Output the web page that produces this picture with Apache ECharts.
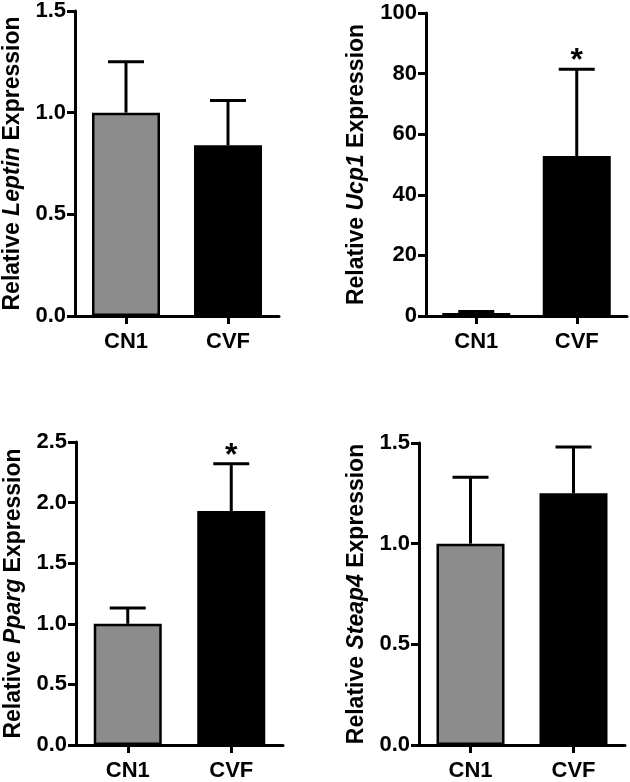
<!DOCTYPE html>
<html>
<head>
<meta charset="utf-8">
<script src="https://cdn.jsdelivr.net/npm/echarts@6/dist/echarts.min.js"></script>
<style>html,body{margin:0;padding:0;background:#fff;}#c{width:630px;height:782px;}</style>
</head>
<body>
<div id="c"></div>
<script>
// ---- data ----
const categories = ['CN1', 'CVF'];
const leptinMean = [1.0, 0.84];
const leptinSem  = [0.25, 0.22];
const ucp1Mean   = [1.0, 52.8];
const ucp1Sem    = [0.5, 28.6];
const ppargMean  = [1.0, 1.93];
const ppargSem   = [0.13, 0.39];
const steap4Mean = [1.0, 1.25];
const steap4Sem  = [0.33, 0.23];
const leptinStar = ['', ''];
const ucp1Star   = ['', '*'];
const ppargStar  = ['', '*'];
const steap4Star = ['', ''];
const leptinTicks = { min: 0, max: 1.5, interval: 0.5 };
const ucp1Ticks   = { min: 0, max: 100, interval: 20 };
const ppargTicks  = { min: 0, max: 2.5, interval: 0.5 };
const steap4Ticks = { min: 0, max: 1.5, interval: 0.5 };

const FONT = 'Liberation Sans, Arial, Helvetica, sans-serif';
const barColors = ['#8c8c8c', '#000000'];

const panels = [
  { gene: 'Leptin', mean: leptinMean, sem: leptinSem, star: leptinStar, ticks: leptinTicks, dec: 1,
    grid: { left: 72, top: 7, width: 207, height: 309 }, nameGap: 51 },
  { gene: 'Ucp1', mean: ucp1Mean, sem: ucp1Sem, star: ucp1Star, ticks: ucp1Ticks, dec: 0,
    grid: { left: 426, top: 13, width: 201, height: 303 }, nameGap: 58 },
  { gene: 'Pparg', mean: ppargMean, sem: ppargSem, star: ppargStar, ticks: ppargTicks, dec: 1,
    grid: { left: 76, top: 442, width: 207, height: 307 }, nameGap: 51 },
  { gene: 'Steap4', mean: steap4Mean, sem: steap4Sem, star: steap4Star, ticks: steap4Ticks, dec: 1,
    grid: { left: 419, top: 443, width: 206, height: 306 }, nameGap: 51 }
];

const grid = [], xAxis = [], yAxis = [], series = [];
panels.forEach((p, i) => {
  grid.push(Object.assign({ containLabel: false }, p.grid));
  xAxis.push({
    type: 'category', gridIndex: i, data: categories, boundaryGap: true,
    axisLine: { lineStyle: { color: '#000', width: 3 } },
    axisTick: { show: true, alignWithLabel: true, length: 8, lineStyle: { color: '#000', width: 3 } },
    axisLabel: { color: '#000', fontFamily: FONT, fontWeight: 'bold', fontSize: 22, margin: 15 },
    splitLine: { show: false }
  });
  yAxis.push({
    type: 'value', gridIndex: i, min: p.ticks.min, max: p.ticks.max, interval: p.ticks.interval,
    axisLine: { show: true, lineStyle: { color: '#000', width: 3 } },
    axisTick: { show: true, length: 8, lineStyle: { color: '#000', width: 3 } },
    axisLabel: { color: '#000', fontFamily: FONT, fontWeight: 'bold', fontSize: 22, margin: 9,
      formatter: v => v.toFixed(p.dec) },
    splitLine: { show: false },
    name: 'Relative {i|' + p.gene + '} Expression',
    nameLocation: 'middle', nameGap: p.nameGap, nameRotate: 90,
    nameTextStyle: {
      color: '#000', fontFamily: FONT, fontWeight: 'bold', fontSize: 23,
      rich: {
        i: { color: '#000', fontFamily: FONT, fontWeight: 'bold', fontStyle: 'italic', fontSize: 23 }
      }
    }
  });
  series.push({
    type: 'bar', xAxisIndex: i, yAxisIndex: i, barWidth: 68, z: 2,
    data: p.mean.map((v, k) => ({ value: v, itemStyle: { color: barColors[k], borderColor: '#000', borderWidth: 2.5 } }))
  });
  series.push({
    type: 'custom', xAxisIndex: i, yAxisIndex: i, z: 3,
    data: p.mean.map((v, k) => [k, v, p.sem[k]]),
    renderItem: (params, api) => {
      const x = api.value(0), m = api.value(1), s = api.value(2);
      const base = api.coord([x, m]);
      const top = api.coord([x, m + s]);
      const half = 18;
      const st = { stroke: '#000', lineWidth: 3 };
      return {
        type: 'group',
        children: [
          { type: 'line', shape: { x1: base[0], y1: base[1], x2: top[0], y2: top[1] }, style: st },
          { type: 'line', shape: { x1: top[0] - half, y1: top[1], x2: top[0] + half, y2: top[1] }, style: st }
        ]
      };
    }
  });
  series.push({
    type: 'custom', xAxisIndex: i, yAxisIndex: i, z: 4,
    data: p.mean.map((v, k) => [k, v + p.sem[k], p.star[k]]),
    renderItem: (params, api) => {
      const k = params.dataIndex;
      const txt = p.star[k];
      if (!txt) return null;
      const pt = api.coord([api.value(0), api.value(1)]);
      return {
        type: 'text',
        style: { text: txt, x: pt[0], y: pt[1] + 8, align: 'center', verticalAlign: 'bottom',
          fontFamily: FONT, fontWeight: 'bold', fontSize: 32, fill: '#000' }
      };
    }
  });
});

const chart = echarts.init(document.getElementById('c'), null, { renderer: 'canvas' });
chart.setOption({ animation: false, backgroundColor: '#fff', grid, xAxis, yAxis, series });
</script>
</body>
</html>
